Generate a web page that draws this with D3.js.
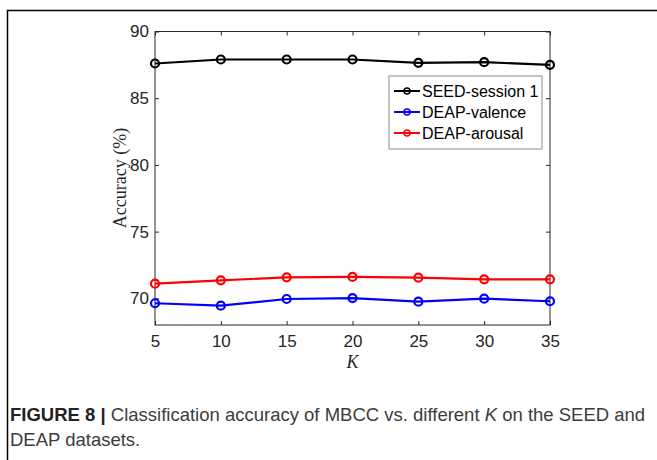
<!DOCTYPE html>
<html>
<head>
<meta charset="utf-8">
<script src="https://cdn.jsdelivr.net/npm/d3@7"></script>
<style>
  body { margin: 0; background: #fff; }
  text { font-family: "Liberation Sans", Arial, sans-serif; }
</style>
</head>
<body>
<div id="chart"></div>
<script>
// data
var kValues = [5, 10, 15, 20, 25, 30, 35];
var seedSession1 = [87.6, 87.9, 87.9, 87.9, 87.65, 87.7, 87.5];
var deapValence = [69.63, 69.45, 69.95, 70.02, 69.75, 69.97, 69.78];
var deapArousal = [71.1, 71.35, 71.57, 71.6, 71.55, 71.42, 71.42];
var seriesNames = ["SEED-session 1", "DEAP-valence", "DEAP-arousal"];
var seriesColors = ["#000000", "#0000ff", "#ff0000"];
var yTicks = [70, 75, 80, 85, 90];

var W = 657, H = 460;
var plot = {left: 155, right: 550, top: 31.5, bottom: 325};

var svg = d3.select("#chart").append("svg")
  .attr("width", W)
  .attr("height", H);

// outer frame (left and top edges)
svg.append("path")
  .attr("d", "M7.5," + H + "V10.5H" + W)
  .attr("fill", "none")
  .attr("stroke", "#000")
  .attr("stroke-width", 1.5);

var x = d3.scaleLinear().domain([5, 35]).range([plot.left, plot.right]);
var y = d3.scaleLinear().domain([68, 90]).range([plot.bottom, plot.top]);

var axisColor = "#262626";

// bottom axis
var gx = svg.append("g")
  .attr("transform", "translate(0," + plot.bottom + ")")
  .call(d3.axisBottom(x).tickValues(kValues).tickSizeInner(-4).tickSizeOuter(0).tickPadding(10));
// top axis (ticks only)
var gxt = svg.append("g")
  .attr("transform", "translate(0," + plot.top + ")")
  .call(d3.axisTop(x).tickValues(kValues).tickSizeInner(-4).tickSizeOuter(0).tickFormat(""));
// left axis
var gy = svg.append("g")
  .attr("transform", "translate(" + plot.left + ",0)")
  .call(d3.axisLeft(y).tickValues(yTicks).tickSizeInner(-4).tickSizeOuter(0).tickPadding(6));
// right axis (ticks only)
var gyr = svg.append("g")
  .attr("transform", "translate(" + plot.right + ",0)")
  .call(d3.axisRight(y).tickValues(yTicks).tickSizeInner(-4).tickSizeOuter(0).tickFormat(""));

[gx, gxt, gy, gyr].forEach(function (g) {
  g.select(".domain").remove();
  g.selectAll("line").attr("stroke", axisColor);
  g.selectAll("text")
    .attr("fill", axisColor)
    .style("font-size", "17px")
    .style("font-family", "'Liberation Sans', Arial, sans-serif");
});

// box
svg.append("rect")
  .attr("x", plot.left)
  .attr("y", plot.top)
  .attr("width", plot.right - plot.left)
  .attr("height", plot.bottom - plot.top)
  .attr("fill", "none")
  .attr("stroke", axisColor)
  .attr("stroke-width", 1);

// axis labels
svg.append("text")
  .attr("transform", "translate(126,178) rotate(-90)")
  .attr("text-anchor", "middle")
  .style("font-family", "'Liberation Serif', 'Times New Roman', serif")
  .style("font-size", "18px")
  .attr("fill", axisColor)
  .text("Accuracy (%)");

svg.append("text")
  .attr("x", (plot.left + plot.right) / 2)
  .attr("y", 368)
  .attr("text-anchor", "middle")
  .style("font-family", "'Liberation Serif', 'Times New Roman', serif")
  .style("font-style", "italic")
  .style("font-size", "18px")
  .attr("fill", axisColor)
  .text("K");

// series
var allSeries = [seedSession1, deapValence, deapArousal];
var line = d3.line()
  .x(function (d, i) { return x(kValues[i]); })
  .y(function (d) { return y(d); });

allSeries.forEach(function (vals, s) {
  svg.append("path")
    .datum(vals)
    .attr("d", line)
    .attr("fill", "none")
    .attr("stroke", seriesColors[s])
    .attr("stroke-width", 2.2);

  svg.selectAll(".pt" + s)
    .data(vals)
    .enter().append("circle")
    .attr("cx", function (d, i) { return x(kValues[i]); })
    .attr("cy", function (d) { return y(d); })
    .attr("r", 4)
    .attr("fill", "none")
    .attr("stroke", seriesColors[s])
    .attr("stroke-width", 2.2);
});

// legend
var legend = svg.append("g").attr("transform", "translate(389,76)");
legend.append("rect")
  .attr("width", 153)
  .attr("height", 73)
  .attr("fill", "#fff")
  .attr("stroke", "#8c8c8c")
  .attr("stroke-width", 1);

seriesNames.forEach(function (name, i) {
  var ly = 15 + i * 21;
  legend.append("line")
    .attr("x1", 5).attr("x2", 31)
    .attr("y1", ly).attr("y2", ly)
    .attr("stroke", seriesColors[i])
    .attr("stroke-width", 2);
  legend.append("circle")
    .attr("cx", 18).attr("cy", ly).attr("r", 3)
    .attr("fill", "none")
    .attr("stroke", seriesColors[i])
    .attr("stroke-width", 1.5);
  legend.append("text")
    .attr("x", 33)
    .attr("y", ly + 5.5)
    .style("font-size", "16px")
    .attr("fill", "#000")
    .text(name);
});

// caption
var cap = svg.append("text")
  .attr("x", 10)
  .attr("y", 421)
  .style("font-size", "18.5px")
  .attr("fill", "#3c3c3c");
cap.append("tspan").style("font-weight", "bold").attr("fill", "#222").text("FIGURE 8 | ");
cap.append("tspan").text("Classification accuracy of MBCC vs. different ");
cap.append("tspan").style("font-style", "italic").text("K");
cap.append("tspan").text(" on the SEED and");

svg.append("text")
  .attr("x", 10)
  .attr("y", 446)
  .style("font-size", "18.5px")
  .attr("fill", "#3c3c3c")
  .text("DEAP datasets.");
</script>
</body>
</html>
